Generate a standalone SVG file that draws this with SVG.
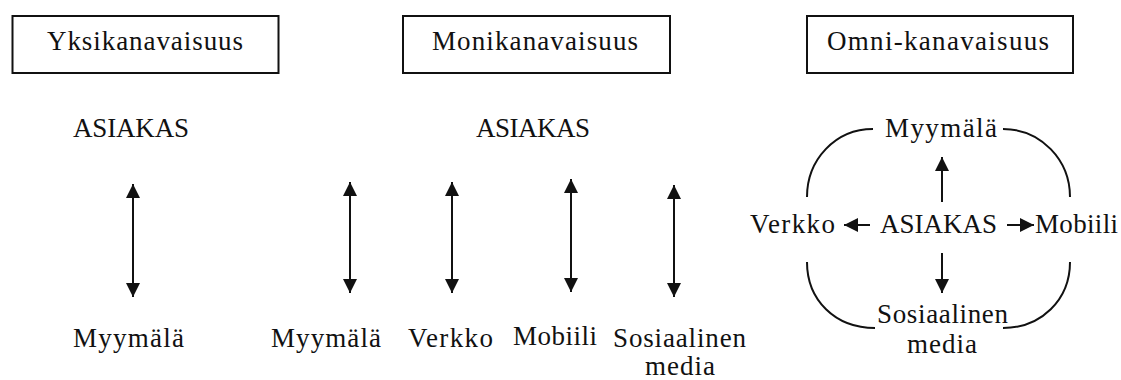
<svg xmlns="http://www.w3.org/2000/svg" width="1121" height="380" viewBox="0 0 1121 380">
<style>
text{font-size:27px;fill:#111;}
.box{fill:#fff;stroke:#111;stroke-width:2;}
.arr{stroke:#111;stroke-width:2;fill:none;}
.cur{stroke:#111;stroke-width:2;fill:none;}
</style>
<defs>
<marker id="ah" markerUnits="userSpaceOnUse" markerWidth="14" markerHeight="14" viewBox="0 0 13 13" refX="13" refY="6.5" orient="auto-start-reverse">
<path d="M0,0 L13,6.5 L0,13 z" fill="#111"/>
</marker>
</defs>
<rect width="1121" height="380" fill="#fff"/>
<g id="nodes" font-family="Liberation Serif, Times New Roman, serif" font-size="27">
<g id="title-yksi"><rect class="box" x="12.5" y="16" width="266" height="57"/><text x="47" y="50" textLength="196" lengthAdjust="spacing">Yksikanavaisuus</text></g>
<g id="title-moni"><rect class="box" x="403" y="16" width="267" height="57"/><text x="432" y="50" textLength="206" lengthAdjust="spacing">Monikanavaisuus</text></g>
<g id="title-omni"><rect class="box" x="807" y="16" width="266" height="57"/><text x="827" y="50" textLength="222" lengthAdjust="spacing">Omni-kanavaisuus</text></g>

<g id="c1-asiakas"><text x="73" y="137" textLength="116" lengthAdjust="spacing">ASIAKAS</text></g>
<g id="c1-myymala"><text x="73" y="347" textLength="111" lengthAdjust="spacing">Myymälä</text></g>

<g id="c2-asiakas"><text x="476" y="137" textLength="114" lengthAdjust="spacing">ASIAKAS</text></g>
<g id="c2-myymala"><text x="271" y="347" textLength="110" lengthAdjust="spacing">Myymälä</text></g>
<g id="c2-verkko"><text x="408" y="347" textLength="85" lengthAdjust="spacing">Verkko</text></g>
<g id="c2-mobiili"><text x="513" y="345" textLength="84" lengthAdjust="spacing">Mobiili</text></g>
<g id="c2-some"><text x="613" y="347" textLength="133" lengthAdjust="spacing">Sosiaalinen</text><text x="645" y="375" textLength="70" lengthAdjust="spacing">media</text></g>

<g id="c3-myymala"><text x="885" y="137" textLength="112" lengthAdjust="spacing">Myymälä</text></g>
<g id="c3-verkko"><text x="750" y="233" textLength="85" lengthAdjust="spacing">Verkko</text></g>
<g id="c3-asiakas"><text x="880" y="233" textLength="117" lengthAdjust="spacing">ASIAKAS</text></g>
<g id="c3-mobiili"><text x="1035" y="233" textLength="83" lengthAdjust="spacing">Mobiili</text></g>
<g id="c3-some"><text x="877" y="323" textLength="131" lengthAdjust="spacing">Sosiaalinen</text><text x="907" y="353" textLength="70" lengthAdjust="spacing">media</text></g>
</g>

<g id="connectors">
<line class="arr" x1="133" y1="184" x2="133" y2="297" marker-start="url(#ah)" marker-end="url(#ah)"/>
<line class="arr" x1="350" y1="182" x2="350" y2="293" marker-start="url(#ah)" marker-end="url(#ah)"/>
<line class="arr" x1="452" y1="182" x2="452" y2="293" marker-start="url(#ah)" marker-end="url(#ah)"/>
<line class="arr" x1="571" y1="179" x2="571" y2="292" marker-start="url(#ah)" marker-end="url(#ah)"/>
<line class="arr" x1="674" y1="185" x2="674" y2="297" marker-start="url(#ah)" marker-end="url(#ah)"/>
<line class="arr" x1="942" y1="202" x2="942" y2="157" marker-end="url(#ah)"/>
<line class="arr" x1="942" y1="253" x2="942" y2="293" marker-end="url(#ah)"/>
<line class="arr" x1="870" y1="225" x2="844" y2="225" marker-end="url(#ah)"/>
<line class="arr" x1="1007" y1="225" x2="1034" y2="225" marker-end="url(#ah)"/>
<path class="cur" d="M873,129 C835,129 807,160 807,197"/>
<path class="cur" d="M1003,129 C1041,129 1070,160 1070,197"/>
<path class="cur" d="M807,262 C807,300 835,328 875,328"/>
<path class="cur" d="M1070,262 C1070,300 1041,328 1003,328"/>
</g>
</svg>
